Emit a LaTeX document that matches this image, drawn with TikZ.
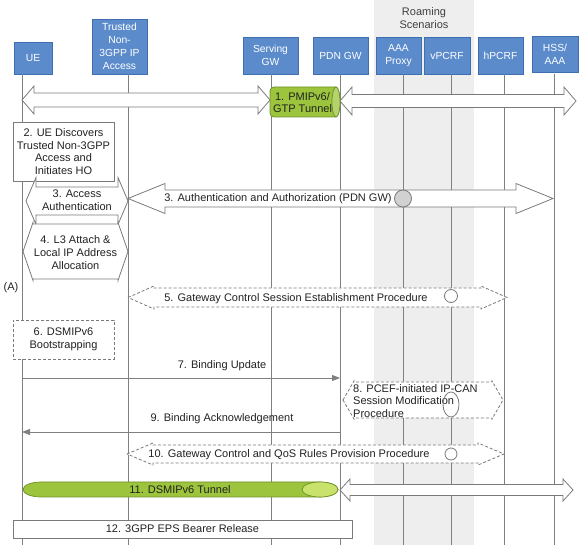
\documentclass[tikz,border=0pt]{standalone}
\usepackage{fontspec}
\setmainfont{Liberation Sans}
\usetikzlibrary{arrows.meta}
\definecolor{boxblue}{HTML}{5B8BCB}
\definecolor{boxedge}{HTML}{3F6FB0}
\definecolor{lifegray}{HTML}{808080}
\definecolor{bandgray}{HTML}{EEEEEE}
\definecolor{tgreen}{HTML}{9CC43C}
\definecolor{tgreenl}{HTML}{C8E26C}
\definecolor{tgreend}{HTML}{6F8F28}
\definecolor{txt}{HTML}{222222}
\definecolor{edgegray}{HTML}{7A7A7A}
\newcommand{\BArrow}[7][]{%
\draw[blockarrow,#1] (#2,#4) -- (#2+#5,#4-#6) -- (#2+#5,#4-#7) -- (#3-#5,#4-#7) -- (#3-#5,#4-#6) -- (#3,#4) -- (#3-#5,#4+#6) -- (#3-#5,#4+#7) -- (#2+#5,#4+#7) -- (#2+#5,#4+#6) -- cycle;}
\begin{document}
\begin{tikzpicture}[x=1pt,y=-1pt,
  font=\fontsize{11}{12.7}\selectfont,
  lbox/.style={draw=boxedge,fill=boxblue,text=white,align=center,inner sep=0pt,line width=0.8pt,font=\fontsize{10.3}{13}\selectfont},
  life/.style={draw=lifegray,line width=0.8pt},
  blockarrow/.style={draw=edgegray,fill=white,line width=0.8pt,line join=miter},
  dsh/.style={dash pattern=on 3pt off 2pt},
  plainbox/.style={draw=edgegray,fill=white,line width=0.8pt,align=center,inner sep=0pt,text=txt},
  lbl/.style={text=txt,align=center,inner sep=0pt},
  msg/.style={draw=lifegray,line width=0.8pt,-{Triangle[length=8pt,width=6pt]}},
  tun/.style={draw=tgreend,fill=tgreen,line width=0.7pt},
  ring/.style={draw=edgegray,line width=0.8pt}]
\useasboundingbox (0,0) rectangle (582,548);
\fill[bandgray] (374,0) rectangle (474,545);
\node[lbl,text=black!75] (roam) at (424,18) {Roaming\\Scenarios};
% boxes
\node[lbox,minimum width=38pt,minimum height=32pt] (ue) at (33,58) {UE};
\node[lbox,minimum width=55pt,minimum height=55pt] (tna) at (119.5,46.5) {Trusted\\Non-\\3GPP IP\\Access};
\node[lbox,minimum width=55pt,minimum height=37pt] (sgw) at (270.5,55.5) {Serving\\GW};
\node[lbox,minimum width=55pt,minimum height=37pt] (pgw) at (340.5,55.5) {PDN GW};
\node[lbox,minimum width=45pt,minimum height=37pt] (aaa) at (398.5,55.5) {AAA\\Proxy};
\node[lbox,minimum width=46pt,minimum height=37pt] (vpcrf) at (447,55.5) {vPCRF};
\node[lbox,minimum width=45pt,minimum height=37pt] (hpcrf) at (500.5,55.5) {hPCRF};
\node[lbox,minimum width=46pt,minimum height=36pt] (hss) at (555,54) {HSS/\\AAA};
% lifelines
\foreach \n/\x in {ue/22,tna/128,sgw/271,pgw/340,aaa/403,vpcrf/451,hpcrf/504,hss/554}{
  \coordinate (\n T) at (\x,74);
  \coordinate (\n B) at (\x,545);
  \draw[life] (\n T) -- (\n B);
}
% step 1
\BArrow{22}{270}{100}{12}{14}{7}
\BArrow{340}{576}{101}{12}{14}{6.5}
\filldraw[tun] (336,117) [rounded corners=4pt] -- (270,117) -- (270,87) [sharp corners] -- (336,87) arc[start angle=90,end angle=-90,x radius=4pt,y radius=15pt] -- cycle;
\filldraw[tun,fill=tgreen!75!white] (336,102) ellipse [x radius=4pt,y radius=15pt];
\node[lbl] (s1) at (302.5,102.5) {1. PMIPv6/\\GTP Tunnel};
% step 2
\node[plainbox,minimum width=101pt,minimum height=59pt] (s2) at (63.5,151.5) {2. UE Discovers\\Trusted Non-3GPP\\Access and\\Initiates HO};
% step 3 access
\BArrow{26}{128}{201}{10}{23.5}{14}
\node[lbl] (s3a) at (77,200.5) {3. Access\\Authentication};
% step 3 auth
\BArrow{128}{553}{198.5}{37}{15}{8.5}
\node[lbl] (s3b) at (278,198.5) {3. Authentication and Authorization (PDN GW)};
\filldraw[ring,fill=black!18] (aaaT |- 0,198.5) circle[radius=8.5pt];
% step 4
\BArrow{23}{128}{251.5}{10}{29}{27.5}
\node[lbl] (s4) at (75.5,252.5) {4. L3 Attach \&\\Local IP Address\\Allocation};
\node[lbl] (A) at (11,288) {(A)};
% step 5
\BArrow[dsh]{128}{507}{297.5}{26}{11.5}{9.5}
\node[lbl] (s5) at (296,298.5) {5. Gateway Control Session Establishment Procedure};
\filldraw[ring,fill=white] (vpcrfT |- 0,296) circle[radius=6.5pt];
% step 6
\node[plainbox,dsh,minimum width=101pt,minimum height=39pt] (s6) at (63.5,339.5) {6. DSMIPv6\\Bootstrapping};
% step 7
\coordinate (m7a) at (22,378);
\coordinate (m7b) at (340,378);
\draw[msg] (m7a) -- (m7b);
\node[lbl] (s7) at (222,366) {7. Binding Update};
% step 8
\BArrow[dsh]{343}{503}{400}{11}{19}{18}
\node[lbl,align=left,anchor=west] (s8) at (353,401) {8. PCEF-initiated IP-CAN\\Session Modification\\Procedure};
\draw[ring] (vpcrfT |- 0,404.5) ellipse[x radius=8pt,y radius=12.5pt];
% step 9
\coordinate (m9a) at (340,432);
\coordinate (m9b) at (22,432);
\draw[msg] (m9a) -- (m9b);
\node[lbl] (s9) at (222,418.5) {9. Binding Acknowledgement};
% step 10
\BArrow[dsh]{127}{504}{454}{26}{11}{9}
\node[lbl] (s10) at (289,455) {10. Gateway Control and QoS Rules Provision Procedure};
\filldraw[ring,fill=white] (vpcrfT |- 0,454) circle[radius=6pt];
% step 11
\BArrow{340}{573}{490}{10}{11}{5.5}
\filldraw[tun] (320,482) -- (41,482) arc[start angle=90,end angle=270,x radius=18pt,y radius=7.5pt] -- (320,497) arc[start angle=-90,end angle=90,x radius=18pt,y radius=7.5pt] -- cycle;
\filldraw[tun,fill=tgreenl] (320,489.5) ellipse[x radius=18pt,y radius=7.5pt];
\node[lbl] (s11) at (180,490) {11. DSMIPv6 Tunnel};
% step 12
\node[plainbox,minimum width=339pt,minimum height=18pt] (s12) at (182.5,529) {12. 3GPP EPS Bearer Release};
\end{tikzpicture}
\end{document}
